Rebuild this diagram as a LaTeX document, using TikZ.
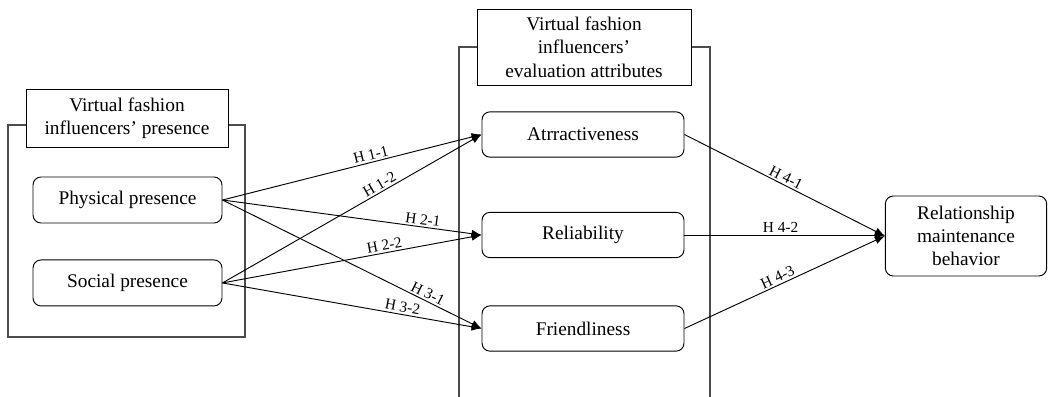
\documentclass[tikz,border=0pt]{standalone}
\usepackage{fontspec}
\setmainfont{Liberation Serif}
\usetikzlibrary{positioning, arrows.meta}

\begin{document}
\begin{tikzpicture}[
    x=0.75pt, y=-0.75pt,
    node distance=27pt,
    factor/.style={rectangle, rounded corners=6pt, minimum width=141.75pt, minimum height=34.5pt,
                   text centered, draw=black, line width=0.7pt, fill=white,
                   font=\fontsize{14.5}{17.5}\selectfont, align=center},
    attribute/.style={factor, minimum width=151.5pt, minimum height=34pt},
    heading/.style={rectangle, draw=black, line width=0.7pt, fill=white,
                    font=\fontsize{14.5}{17.5}\selectfont, align=center},
    frame/.style={draw=black!70, line width=1.1pt},
    arrow/.style={->, >={Latex[length=7.5pt, width=6pt]}, line width=0.7pt, black},
    hyp/.style={font=\fontsize{11.5}{12}\selectfont, sloped, above, inner sep=1.5pt}
]
\useasboundingbox (0,0) rectangle (1048,396);

% Frames
\draw[frame] (8,125) rectangle (245,337);
\draw[frame] (459,400) |- (710,47) -- (710,400);

% Group headings
\node[heading, minimum width=151.5pt, minimum height=44pt] (presence) at (127,118.5) {
    Virtual fashion\\
    influencers' presence
};
\node[heading, minimum width=160.5pt, minimum height=57pt] (evaluation) at (584,47) {
    Virtual fashion\\
    influencers'\\
    evaluation attributes
};

% Presence
\node[factor] (physical) at (127.5,200) {Physical presence};
\node[factor, below=27pt of physical] (social) {Social presence};

% Evaluation attributes
\node[attribute] (attract) at (583,134.5) {Atrractiveness};
\node[attribute] (reliab) at (583,235) {Reliability};
\node[attribute] (friend) at (583,328.5) {Friendliness};

% Outcome
\node[factor, minimum width=121pt, minimum height=60pt] (relation) at (966,236) {
    Relationship\\
    maintenance\\
    behavior
};

% Hypotheses
\draw[arrow] (physical.east) -- node[hyp, pos=0.58] {H 1-1} (attract.west);
\draw[arrow] (social.east) -- node[hyp, pos=0.62] {H 1-2} (attract.west);
\draw[arrow] (physical.east) -- node[hyp, pos=0.77] {H 2-1} (reliab.west);
\draw[arrow] (social.east) -- node[hyp, pos=0.63] {H 2-2} (reliab.west);
\draw[arrow] (physical.east) -- node[hyp, pos=0.78] {H 3-1} (friend.west);
\draw[arrow] (social.east) -- node[hyp, pos=0.69] {H 3-2} (friend.west);
\draw[arrow] (attract.east) -- node[hyp, pos=0.49] {H 4-1} (relation.west);
\draw[arrow] (reliab.east) -- node[hyp, pos=0.48] {H 4-2} (reliab.east -| relation.west);
\draw[arrow] (friend.east) -- node[hyp, pos=0.48] {H 4-3} (relation.west);

\end{tikzpicture}
\end{document}
